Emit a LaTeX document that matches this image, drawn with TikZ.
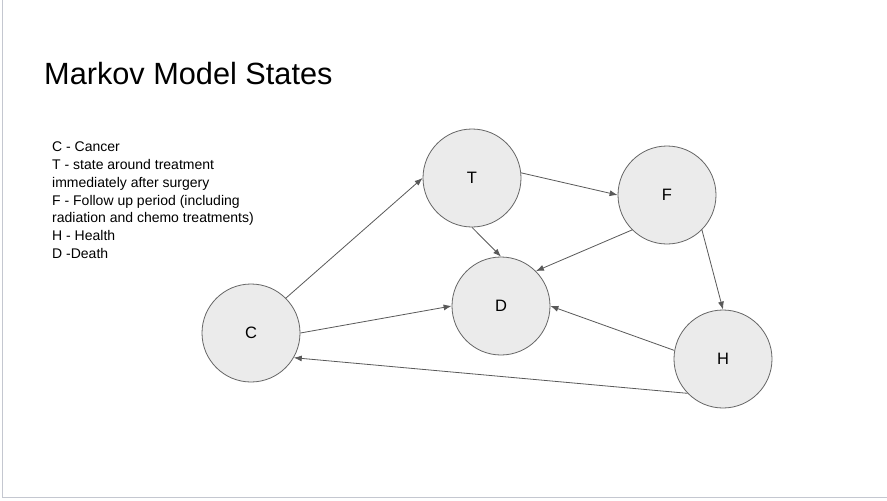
\documentclass[tikz,border=0pt]{standalone}
\usepackage{fontspec}
\setmainfont{Liberation Sans}
\usetikzlibrary{arrows.meta}
\definecolor{stategray}{HTML}{EBEBEB}
\definecolor{edgegray}{HTML}{666666}
\definecolor{arrowgray}{HTML}{595959}
\definecolor{framegray}{HTML}{C4C7D0}
\begin{document}
\begin{tikzpicture}[x=1pt,y=-1pt,
    state/.style={circle,draw=edgegray,fill=stategray,line width=0.8pt,minimum size=98pt,inner sep=0pt,font=\fontsize{16.5}{19}\selectfont},
    trans/.style={draw=arrowgray,line width=0.8pt,-{Latex[length=8pt,width=6pt]}}]
    \useasboundingbox (0,0) rectangle (887,501);
    \fill[white] (0,0) rectangle (887,501);
    \draw[framegray,line width=1pt] (2,0)--(2,497);
    \draw[framegray,line width=1pt] (2,497)--(887,497);
    % title and legend
    \node[anchor=base west,inner sep=0pt,font=\fontsize{30.7}{36}\selectfont] (title) at (44,84) {Markov Model States};
    \node[anchor=north west,inner sep=0pt,align=left,font=\fontsize{14}{17.7}\selectfont] (legend) at (52,142)
        {C - Cancer\\T - state around treatment\\immediately after surgery\\F - Follow up period (including\\radiation and chemo treatments)\\H - Health\\D -Death};
    % states
    \node[state] (T) at (472,178) {T};
    \node[state] (F) at (667,195) {F};
    \node[state] (D) at (501,306) {D};
    \node[state] (C) at (251,333) {C};
    \node[state] (H) at (723,359) {H};
    % transitions
    \draw[trans] (C.45) -- (T.west);
    \draw[trans] (T.6) -- (F.west);
    \draw[trans] (T.south) -- (D.north);
    \draw[trans] (F.225) -- (D.45);
    \draw[trans] (F.-45) -- (H.north);
    \draw[trans] (C.east) -- (D.west);
    \draw[trans] (H.170) -- (D.east);
    \draw[trans] (H.224) -- (C.-30);
\end{tikzpicture}
\end{document}
